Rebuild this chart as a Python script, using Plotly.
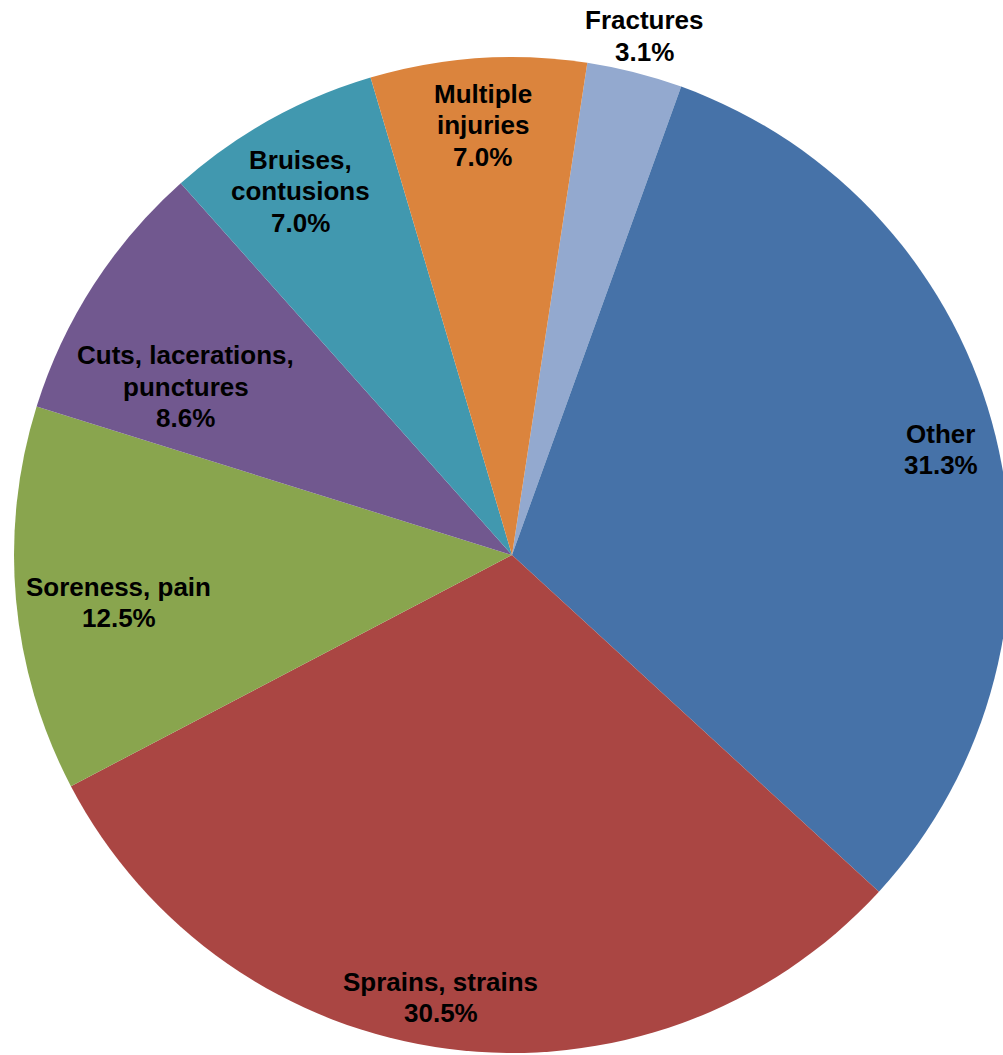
import math
import plotly.graph_objects as go

# Data
categories = ["Fractures", "Other", "Sprains, strains", "Soreness, pain",
              "Cuts, lacerations, punctures", "Bruises, contusions", "Multiple injuries"]
values = [3.1, 31.3, 30.5, 12.5, 8.6, 7.0, 7.0]
label_lines = [["Fractures"], ["Other"], ["Sprains, strains"], ["Soreness, pain"],
               ["Cuts, lacerations,", "punctures"], ["Bruises,", "contusions"],
               ["Multiple", "injuries"]]

# Styles / layout
colors = ["#93A9CF", "#4672A8", "#AA4643", "#89A54E", "#71588F", "#4198AF", "#DB843D"]
label_radius = [1.075, 0.887, 0.90, 0.795, 0.737, 0.845, 0.865]
label_angle_shift = [0.0, 0.0, 1.7, -1.7, -5.5, -1.1, 0.0]
line_gap = 31.5
W, H = 1011, 1055
rotation = 8.7
dom_x = [14, 1010]
dom_y_px = [57, 1053]  # top, bottom in pixels

fig = go.Figure(go.Pie(
    labels=categories, values=values, sort=False, direction="clockwise",
    rotation=rotation, textinfo="none", hoverinfo="label+percent",
    marker=dict(colors=colors, line=dict(width=0)),
    domain=dict(x=[dom_x[0] / W, dom_x[1] / W],
                y=[(H - dom_y_px[1]) / H, (H - dom_y_px[0]) / H]),
    showlegend=False,
))

cx = (dom_x[0] + dom_x[1]) / 2
cy = (dom_y_px[0] + dom_y_px[1]) / 2
r = min(dom_x[1] - dom_x[0], dom_y_px[1] - dom_y_px[0]) / 2
total = sum(values)
cum = 0.0
annotations = []
for i, v in enumerate(values):
    mid = rotation + (cum + v / 2) / total * 360 + label_angle_shift[i]
    cum += v
    a = math.radians(mid)
    px = cx + label_radius[i] * r * math.sin(a)
    py = cy - label_radius[i] * r * math.cos(a)
    lines = label_lines[i] + [f"{v / total * 100:.1f}%"]
    n = len(lines)
    for k, txt in enumerate(lines):
        ly = py + (k - (n - 1) / 2) * line_gap
        annotations.append(dict(
            x=px / W, y=(H - ly) / H, xref="paper", yref="paper",
            text="<b>" + txt + "</b>", showarrow=False,
            xanchor="center", yanchor="middle", align="center",
            font=dict(family="Liberation Sans, Arial, sans-serif", size=26, color="#000000"),
        ))

fig.update_layout(
    width=W, height=H, margin=dict(l=0, r=0, t=0, b=0),
    paper_bgcolor="white", plot_bgcolor="white",
    annotations=annotations,
)

fig.write_html(
    "out.html",
    config={"displayModeBar": False},
    post_script="document.body.style.margin='0';document.body.style.overflow='hidden';"
                "document.documentElement.style.overflow='hidden';",
)
